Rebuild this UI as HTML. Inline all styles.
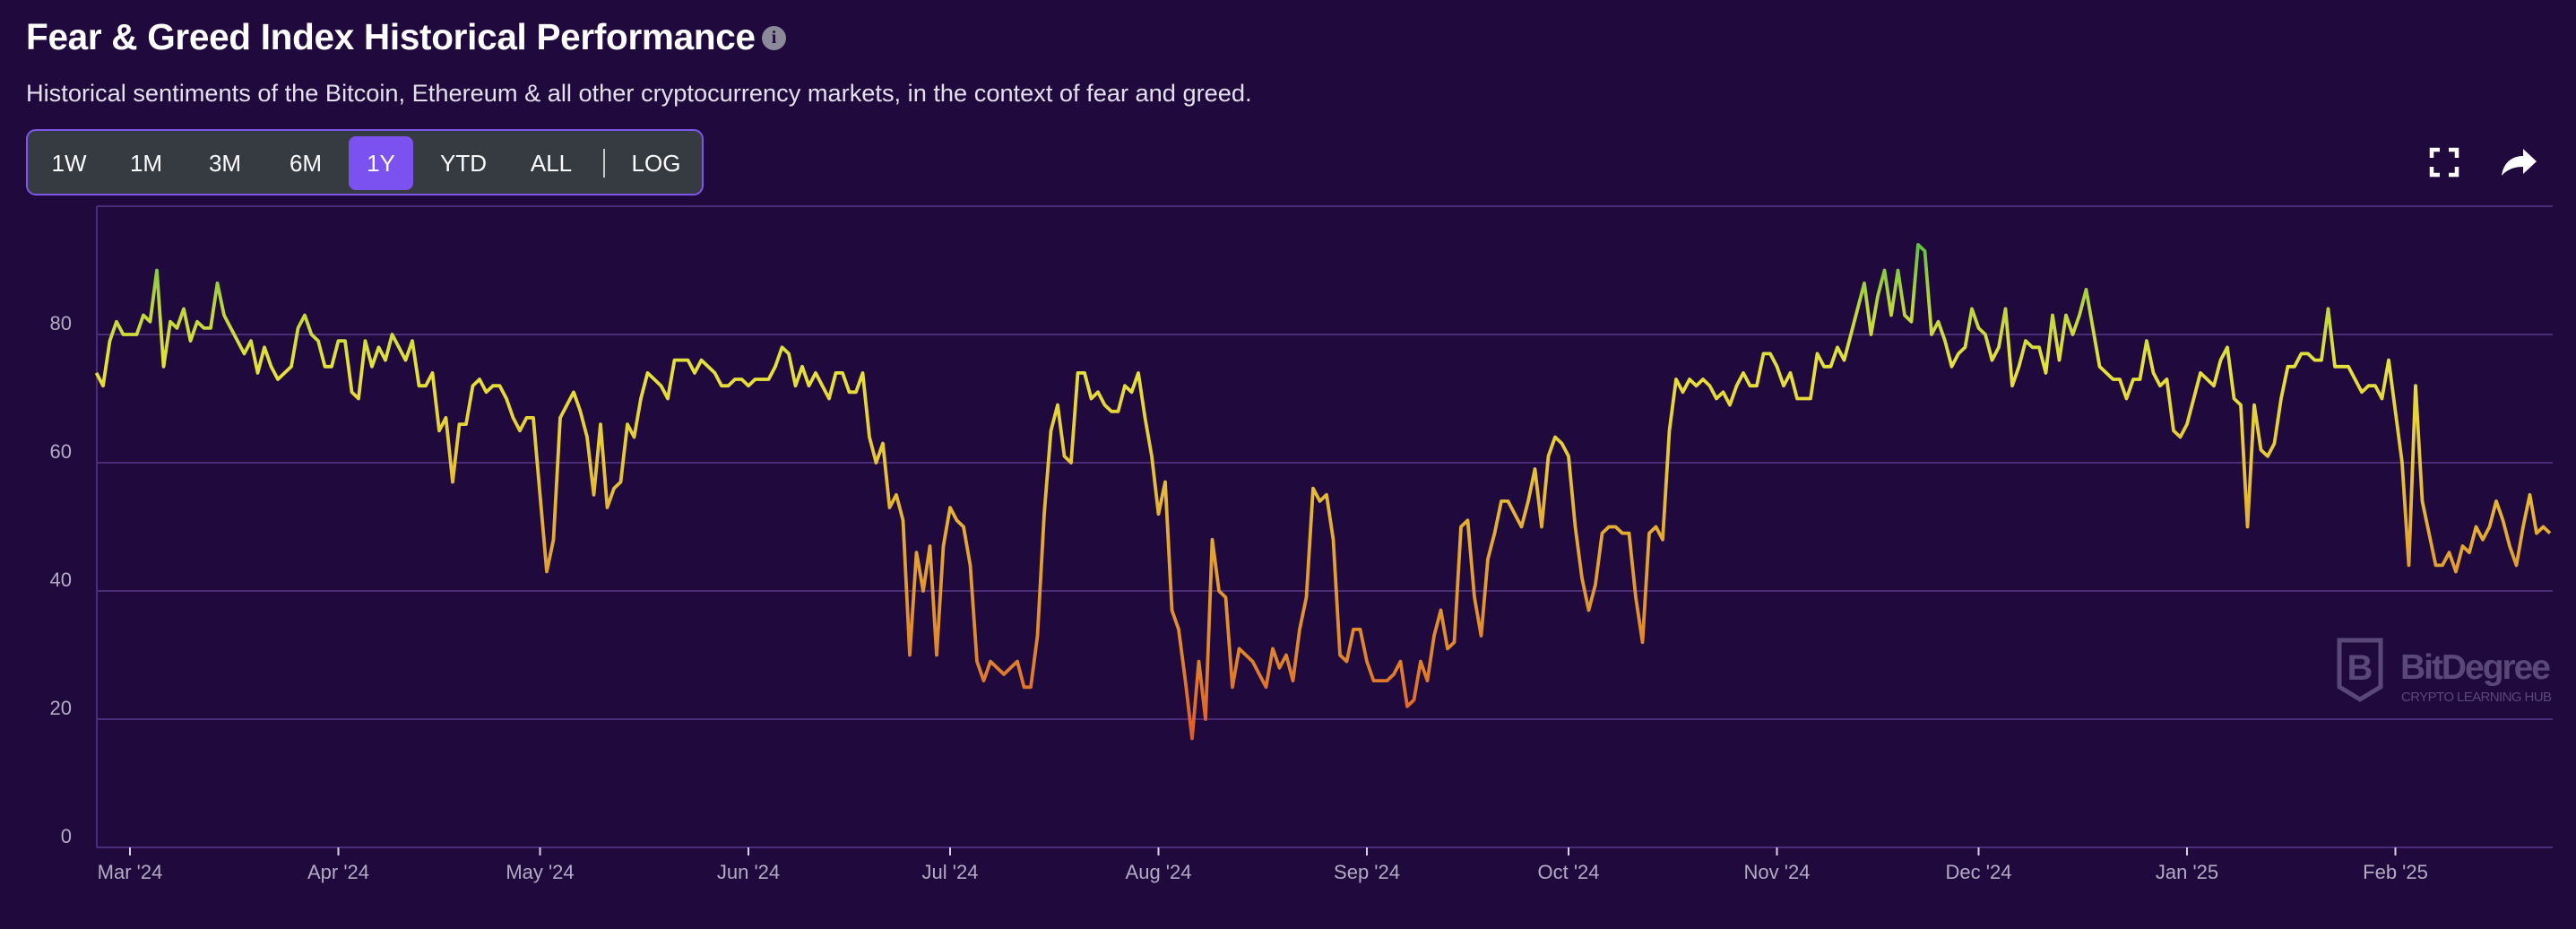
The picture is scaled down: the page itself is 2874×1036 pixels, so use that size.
<!DOCTYPE html>
<html><head><meta charset="utf-8"><title>Fear & Greed Index Historical Performance</title>
<style>
html,body{margin:0;padding:0;background:#20093d;width:2874px;height:1036px;overflow:hidden;font-family:"Liberation Sans",sans-serif}
.abs{position:absolute}
#title{left:29px;top:18px;font-size:40.5px;font-weight:bold;color:#fff;letter-spacing:-0.3px;white-space:nowrap}
#info{left:850px;top:29px;width:27px;height:27px;border-radius:50%;background:#8c8a99;color:#20093d;font-size:20px;font-weight:bold;text-align:center;line-height:27px;font-family:"Liberation Serif",serif}
#sub{left:29px;top:88px;font-size:27.2px;color:#e4e0ec;white-space:nowrap}
#range{left:29px;top:144px;width:752px;height:70px;border:2px solid #7b57ea;border-radius:11px;background:#363a41}
.btn{position:absolute;top:6px;height:60px;line-height:60px;font-size:26px;color:#fff;text-align:center;border-radius:8px}
.btn.on{background:#7b52f0}
#sep{position:absolute;left:642px;top:20px;width:2px;height:32px;background:#c8c8c8}
</style></head>
<body>
<div class="abs" id="title">Fear &amp; Greed Index Historical Performance</div>
<div class="abs" id="info">i</div>
<div class="abs" id="sub">Historical sentiments of the Bitcoin, Ethereum &amp; all other cryptocurrency markets, in the context of fear and greed.</div>
<div class="abs" id="range">
  <div class="btn" style="left:12px;width:68px">1W</div>
  <div class="btn" style="left:98px;width:68px">1M</div>
  <div class="btn" style="left:186px;width:68px">3M</div>
  <div class="btn" style="left:276px;width:68px">6M</div>
  <div class="btn on" style="left:358px;width:72px">1Y</div>
  <div class="btn" style="left:448px;width:76px">YTD</div>
  <div class="btn" style="left:548px;width:72px">ALL</div>
  <div id="sep"></div>
  <div class="btn" style="left:664px;width:74px">LOG</div>
</div>
<svg class="abs" style="left:0;top:0" width="2874" height="1036" id="chart">
  <defs>
    <linearGradient id="lg" gradientUnits="userSpaceOnUse" x1="0" y1="945" x2="0" y2="230">
      <stop offset="0.15" stop-color="#e0552a"/>
      <stop offset="0.30" stop-color="#df852c"/>
      <stop offset="0.45" stop-color="#e3a232"/>
      <stop offset="0.60" stop-color="#e6c636"/>
      <stop offset="0.75" stop-color="#e6e23a"/>
      <stop offset="0.84" stop-color="#bcd83a"/>
      <stop offset="0.95" stop-color="#5cbd46"/>
    </linearGradient>
  </defs>
  <g id="grid"></g>
  <g id="xaxis"></g>
  <g id="yaxis"></g>
  <g id="series"></g>
  <g fill="none" stroke="#5a4878" stroke-width="5">
    <path d="M2610 714 H2656 V766 L2633 780 L2610 766 Z"/>
    <text x="2633" y="758" text-anchor="middle" font-size="40" font-weight="bold" fill="#5a4878" stroke="none" font-family="Liberation Sans, sans-serif">B</text>
    <text x="2678" y="757" font-size="39" font-weight="bold" fill="#5a4878" stroke="none" font-family="Liberation Sans, sans-serif" textLength="168">BitDegree</text>
    <text x="2679" y="782" font-size="15" fill="#5a4878" stroke="none" font-family="Liberation Sans, sans-serif" textLength="168">CRYPTO LEARNING HUB</text>
  </g>
  <g stroke="#fff" stroke-width="4.5" fill="none">
    <path d="M2713 176 V167 H2722 M2732 167 H2741 V176 M2741 186 V195 H2732 M2722 195 H2713 V186"/>
  </g>
  <g>
    <path d="M2791 196 C2793 181 2803 174 2815 174 V166 L2830 180 L2815 194 V186 C2805 186 2797 189 2791 196 Z" fill="#fff"/>
  </g>
</svg>
<script>
const monthLabels = ["Mar '24","Apr '24","May '24","Jun '24","Jul '24","Aug '24","Sep '24","Oct '24","Nov '24","Dec '24","Jan '25","Feb '25"];
const monthDays = [0,31,61,92,122,153,184,214,245,275,306,337];
const yTicks = [0,20,40,60,80];
const startDay = -5;
const values = [
74,72,79,82,80,80,80,83,82,90,75,82,81,84,79,82,81,81,88,83,81,79,77,79,74,78,75,73,74,75,81,83,80,79,75,75,79,79,71,70,79,75,78,76,80,78,76,79,72,72,74,65,67,57,66,66,72,73,71,72,72,70,67,65,67,67,55,43,48,67,69,71,68,64,55,66,53,56,57,66,64,70,74,73,72,70,76,76,76,74,76,75,74,72,72,
73,73,72,73,73,73,75,78,77,72,75,72,74,72,70,74,74,71,71,74,64,60,63,53,55,51,30,46,40,47,30,47,53,51,50,44,29,26,29,28,27,28,29,25,25,33,52,65,69,61,60,74,74,70,71,69,68,68,72,71,74,67,61,52,57,37,34,26,17,29,20,48,40,39,25,31,30,29,27,25,31,28,30,26,34,39,56,54,55,48,30,29,34,
34,29,26,26,26,27,29,22,23,29,26,33,37,31,32,50,51,39,33,45,49,54,54,52,50,54,59,50,61,64,63,61,50,42,37,41,49,50,50,49,49,39,32,49,50,48,65,73,71,73,72,73,72,70,71,69,72,74,72,72,77,77,75,72,74,70,70,70,77,75,75,78,76,80,84,88,80,86,90,83,90,83,82,94,93,80,82,79,75,77,78,84,81,80,
76,78,84,72,75,79,78,78,74,83,76,83,80,83,87,81,75,74,73,73,70,73,73,79,74,72,73,65,64,66,70,74,73,72,76,78,70,69,50,69,62,61,63,70,75,75,77,77,76,76,84,75,75,75,73,71,72,72,70,76,68,60,44,72,54,49,44,44,46,43,47,46,50,48,50,54,51,47,44,50,55,49,50,49
];
const NS="http://www.w3.org/2000/svg";
const X0=145, DX=7.5, Y0=945, YS=7.15;
function xPos(d){return X0+d*DX;}
function yPos(v){return Y0-v*YS;}
function mk(tag,attrs,parent){const e=document.createElementNS(NS,tag);for(const k in attrs)e.setAttribute(k,attrs[k]);parent.appendChild(e);return e;}
const grid=document.getElementById('grid'), xa=document.getElementById('xaxis'), ya=document.getElementById('yaxis'), ser=document.getElementById('series');
[20,40,60,80,100].forEach(v=>{
  const l=mk('line',{x1:108,x2:2848,y1:yPos(v),y2:yPos(v),stroke:'#4a2c78','stroke-width':2},grid);
  
  
});
const yl=mk('line',{x1:108,x2:108,y1:yPos(100),y2:Y0,stroke:'#4a2c78','stroke-width':2},ya);


yTicks.forEach(v=>{
  const t=mk('text',{x:80,y:yPos(v)-5,'text-anchor':'end','font-size':22,fill:'#b3abc4','font-family':'Liberation Sans, sans-serif'},ya);
  t.textContent=v;
  
  
});
const xl=mk('line',{x1:108,x2:2848,y1:Y0,y2:Y0,stroke:'#4a2c78','stroke-width':2},xa);


monthDays.forEach((d,i)=>{
  const tk=mk('line',{x1:xPos(d),x2:xPos(d),y1:Y0,y2:Y0+9,stroke:'#d8d2e6','stroke-width':2},xa);
  
  
  const t=mk('text',{x:xPos(d),y:980,'text-anchor':'middle','font-size':22,fill:'#b3abc4','font-family':'Liberation Sans, sans-serif'},xa);
  t.textContent=monthLabels[i];
  
  
});
let dstr='';
values.forEach((v,i)=>{dstr+=(i?'L':'M')+xPos(startDay+i).toFixed(1)+' '+yPos(v).toFixed(1);});
const p=mk('path',{d:dstr,fill:'none',stroke:'url(#lg)','stroke-width':3.8,'stroke-linejoin':'round'},ser);


</script>
</body></html>
